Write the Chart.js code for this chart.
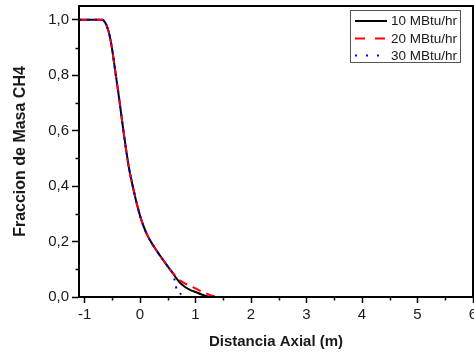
<!DOCTYPE html>
<html>
<head>
<meta charset="utf-8">
<script src="https://cdn.jsdelivr.net/npm/chart.js@4/dist/chart.umd.min.js"></script>
<style>
  html, body { margin: 0; padding: 0; background: #fff; }
  #wrap { width: 474px; height: 354px; position: relative; }
</style>
</head>
<body>
<div id="wrap"><canvas id="c"></canvas></div>
<script>
// Axial distance (m)
const distancia = [-1.1, -0.9, -0.75, -0.68, -0.65, -0.6, -0.55, -0.5, -0.45, -0.4, -0.35, -0.3,
  -0.25, -0.2, -0.15, -0.1, -0.05, 0, 0.05, 0.1, 0.15, 0.2, 0.25, 0.3, 0.35, 0.4, 0.45, 0.5, 0.55,
  0.6, 0.66, 0.7, 0.75, 0.8, 0.86, 0.9, 1.0, 1.1, 1.2, 1.3, 1.4, 1.5, 2, 3, 4, 5, 6];

// CH4 mass fraction for each burner load
const ch4_10 = [1, 1, 1, 1, 0.996, 0.978, 0.945, 0.89, 0.82, 0.75, 0.675, 0.6,
  0.53, 0.466, 0.417, 0.372, 0.33, 0.293, 0.263, 0.237, 0.216, 0.198, 0.182, 0.167, 0.152, 0.138, 0.124, 0.11, 0.097,
  0.083, 0.066, 0.056, 0.046, 0.038, 0.03, 0.026, 0.018, 0.01, 0.003, 0, 0, 0, 0, 0, 0, 0, 0];
const ch4_20 = [1, 1, 1, 1, 0.996, 0.978, 0.945, 0.89, 0.82, 0.75, 0.675, 0.6,
  0.53, 0.466, 0.417, 0.372, 0.33, 0.293, 0.263, 0.237, 0.216, 0.198, 0.182, 0.167, 0.152, 0.138, 0.124, 0.11, 0.097,
  0.085, 0.071, 0.063, 0.056, 0.05, 0.044, 0.04, 0.031, 0.021, 0.012, 0.005, 0.001, 0, 0, 0, 0, 0, 0];
const ch4_30 = [1, 1, 1, 1, 0.996, 0.978, 0.945, 0.89, 0.82, 0.75, 0.675, 0.6,
  0.53, 0.466, 0.417, 0.372, 0.33, 0.293, 0.263, 0.237, 0.216, 0.198, 0.182, 0.167, 0.152, 0.138, 0.124, 0.11, 0.097,
  0.08, 0.028, 0.018, 0.008, 0.003, 0, 0, 0, 0, 0, 0, 0, 0, 0, 0, 0, 0, 0];

const seriesLabels = ['10 MBtu/hr', '20 MBtu/hr', '30 MBtu/hr'];

// Tick positions
const xMajorTicks = [-1, 0, 1, 2, 3, 4, 5, 6];
const xMinorTicks = [-0.5, 0.5, 1.5, 2.5, 3.5, 4.5, 5.5];
const yMajorTicks = [0, 0.2, 0.4, 0.6, 0.8, 1.0];
const yMinorTicks = [0.1, 0.3, 0.5, 0.7, 0.9];

const FONT = "'Liberation Sans', Arial, sans-serif";
const TXT = '#1a1a1a';

const toPoints = ys => distancia.map((x, i) => ({ x: x, y: ys[i] }));

// Frame, minor ticks and in-plot legend
const framePlugin = {
  id: 'frame',
  afterDraw(chart) {
    const ctx = chart.ctx;
    const a = chart.chartArea;
    const xs = chart.scales.x, ys = chart.scales.y;
    ctx.save();
    ctx.strokeStyle = '#000';
    ctx.lineWidth = 2;
    ctx.strokeRect(a.left, a.top, a.right - a.left, a.bottom - a.top);
    ctx.lineWidth = 1.5;
    ctx.beginPath();
    xMinorTicks.forEach(v => {
      const p = Math.round(xs.getPixelForValue(v)) + 0.5;
      ctx.moveTo(p, a.bottom); ctx.lineTo(p, a.bottom + 3.5);
    });
    yMinorTicks.forEach(v => {
      const p = Math.round(ys.getPixelForValue(v)) + 0.5;
      ctx.moveTo(a.left, p); ctx.lineTo(a.left - 3.5, p);
    });
    ctx.stroke();

    // legend box
    const bx = 350.5, by = 10.5, bw = 110, bh = 52;
    ctx.fillStyle = '#fff';
    ctx.fillRect(bx, by, bw, bh);
    ctx.strokeStyle = '#555';
    ctx.lineWidth = 1;
    ctx.strokeRect(bx, by, bw, bh);
    const rows = [21, 38.5, 55.5];
    chart.data.datasets.forEach((ds, i) => {
      ctx.beginPath();
      ctx.strokeStyle = ds.borderColor;
      ctx.lineWidth = ds.borderWidth;
      ctx.setLineDash(ds.legendDash || []);
      ctx.moveTo(355, rows[i]); ctx.lineTo(387, rows[i]);
      ctx.stroke();
      ctx.setLineDash([]);
      ctx.fillStyle = TXT;
      ctx.font = '13.5px ' + FONT;
      ctx.textBaseline = 'middle';
      ctx.textAlign = 'left';
      ctx.fillText(ds.label, 391, rows[i] + 0.5);
    });
    ctx.restore();
  }
};

new Chart(document.getElementById('c'), {
  type: 'line',
  data: {
    datasets: [
      { label: seriesLabels[0], data: toPoints(ch4_10), borderColor: '#000000', borderWidth: 2,
        order: 3, legendDash: [] },
      { label: seriesLabels[1], data: toPoints(ch4_20), borderColor: '#ff0000', borderWidth: 2,
        borderDash: [9, 6], order: 2, legendDash: [10, 10] },
      { label: seriesLabels[2], data: toPoints(ch4_30), borderColor: '#0000ff', borderWidth: 2,
        borderDash: [2, 6], order: 1, legendDash: [2, 9] }
    ]
  },
  options: {
    responsive: true,
    maintainAspectRatio: false,
    animation: false,
    devicePixelRatio: 1,
    layout: { padding: { left: 0, top: 6, right: 1, bottom: 0 } },
    elements: {
      point: { radius: 0 },
      line: { cubicInterpolationMode: 'monotone', fill: false }
    },
    datasets: { line: { clip: 4 } },
    plugins: {
      legend: { display: false },
      tooltip: { enabled: false }
    },
    scales: {
      x: {
        type: 'linear',
        min: -1.1,
        max: 6,
        afterBuildTicks: s => { s.ticks = xMajorTicks.map(v => ({ value: v })); },
        afterFit: s => { s.height = 57; s.paddingLeft = 0; s.paddingRight = 0; },
        ticks: {
          color: TXT, font: { family: FONT, size: 15 }, padding: 3,
          maxRotation: 0, autoSkip: false,
          callback: v => String(v)
        },
        grid: { display: true, drawOnChartArea: false, drawTicks: true, tickLength: 6,
          tickColor: '#000', tickWidth: 1.5 },
        border: { display: true, color: '#000', width: 2 },
        title: {
          display: true, text: 'Distancia Axial (m)', color: TXT,
          font: { family: FONT, size: 15, weight: 'bold' },
          padding: { top: 0, bottom: 3 }
        }
      },
      y: {
        type: 'linear',
        min: 0,
        max: 1.05,
        afterBuildTicks: s => { s.ticks = yMajorTicks.map(v => ({ value: v })); },
        afterFit: s => { s.width = 79; s.paddingTop = 0; s.paddingBottom = 0; },
        ticks: {
          color: TXT, font: { family: FONT, size: 15 }, padding: 3,
          callback: v => Number(v).toFixed(1).replace('.', ',')
        },
        grid: { display: true, drawOnChartArea: false, drawTicks: true, tickLength: 7,
          tickColor: '#000', tickWidth: 1.5 },
        border: { display: true, color: '#000', width: 2 },
        title: {
          display: true, text: 'Fraccion de Masa CH4', color: TXT,
          font: { family: FONT, size: 16, weight: 'bold' },
          padding: { top: 11, bottom: 0 }
        }
      }
    }
  },
  plugins: [framePlugin]
});
</script>
</body>
</html>
